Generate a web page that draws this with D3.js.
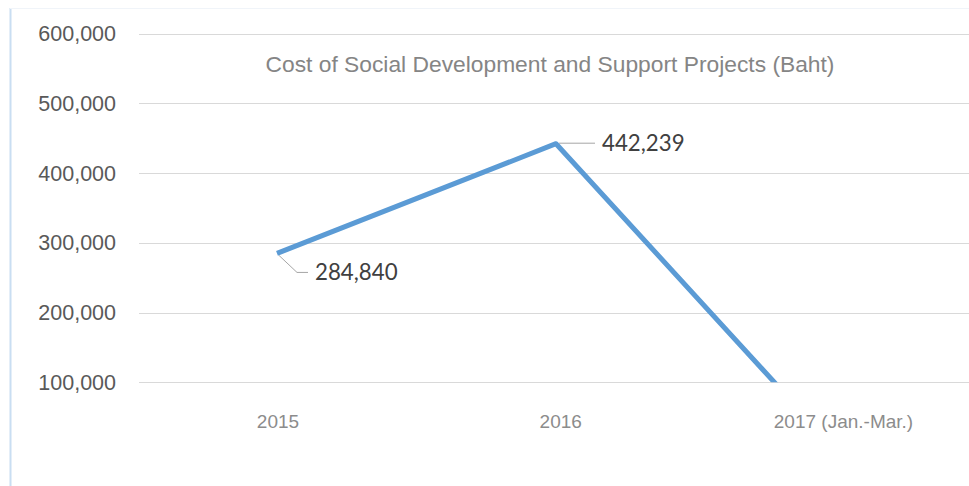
<!DOCTYPE html>
<html>
<head>
<meta charset="utf-8">
<script src="https://cdn.jsdelivr.net/npm/d3@7/dist/d3.min.js"></script>
<style>
  html, body { margin: 0; padding: 0; background: #fff; }
  svg { display: block; }
</style>
</head>
<body>
<svg id="chart" width="969" height="486"></svg>
<script>
// Yearly project cost in Baht
const categories = ["2015", "2016", "2017 (Jan.-Mar.)"];
const costs = [284840, 442239, 5000];
const yTicks = [100000, 200000, 300000, 400000, 500000, 600000];
const title = "Cost of Social Development and Support Projects (Baht)";

const W = 969, H = 486;
const svg = d3.select("#chart");

// chart frame (left and top edges of the chart area)
svg.append("line").attr("x1", 10.5).attr("x2", 10.5).attr("y1", 8).attr("y2", H)
  .attr("stroke", "#c9def2").attr("stroke-width", 2);
svg.append("line").attr("x1", 10).attr("x2", W).attr("y1", 8.5).attr("y2", 8.5)
  .attr("stroke", "#f0f4f9").attr("stroke-width", 1);

const plotLeft = 137.5, plotRight = 974.5;
const x = d3.scalePoint().domain(categories).range([plotLeft, plotRight]).padding(0.5);
const xLabel = d3.scalePoint().domain(categories).range([278, 843.5]);
const y = d3.scaleLinear().domain([100000, 600000]).range([382.3, 33.7]);

// gridlines
svg.append("g").selectAll("line").data(yTicks).join("line")
  .attr("x1", 139).attr("x2", W)
  .attr("y1", d => Math.round(y(d)) + 0.5).attr("y2", d => Math.round(y(d)) + 0.5)
  .attr("stroke", "#d9d9d9").attr("stroke-width", 1);

// y axis labels
const yAxis = d3.axisLeft(y).tickValues(yTicks).tickSize(0).tickPadding(0)
  .tickFormat(d3.format(","));
const gy = svg.append("g").attr("transform", "translate(116,0)").call(yAxis);
gy.select(".domain").remove();
gy.selectAll("text")
  .attr("font-family", "'Liberation Sans', Arial, sans-serif")
  .attr("font-size", 21.5).attr("fill", "#595959");

// category labels
svg.append("g").selectAll("text").data(categories).join("text")
  .attr("x", d => xLabel(d)).attr("y", 421)
  .attr("dy", "0.35em").attr("text-anchor", "middle")
  .attr("font-family", "'Liberation Sans', Arial, sans-serif")
  .attr("font-size", 19).attr("fill", "#8c8c8c")
  .text(d => d);

// title
svg.append("text").attr("x", 550).attr("y", 64).attr("dy", "0.35em")
  .attr("text-anchor", "middle")
  .attr("font-family", "'Liberation Sans', Arial, sans-serif")
  .attr("font-size", 22.8).attr("fill", "#858585")
  .text(title);

// plot-area clipping
svg.append("defs").append("clipPath").attr("id", "plotClip")
  .append("rect").attr("x", plotLeft).attr("y", 0)
  .attr("width", plotRight - plotLeft).attr("height", y(100000));

const data = categories.map((c, i) => ({ c, v: costs[i] }));
const line = d3.line().x(d => x(d.c)).y(d => y(d.v));

svg.append("path").datum(data)
  .attr("clip-path", "url(#plotClip)")
  .attr("d", line)
  .attr("fill", "none").attr("stroke", "#5b9bd5")
  .attr("stroke-width", 5).attr("stroke-linejoin", "round").attr("stroke-linecap", "butt");

// data labels with leader lines
const labelFont = "Lato, 'Open Sans', sans-serif";
const d0 = data[0], d1 = data[1];
const p0 = [x(d0.c), y(d0.v)], p1 = [x(d1.c), y(d1.v)];

svg.append("path")
  .attr("d", `M${p0[0] + 2},${p0[1] + 2} L${p0[0] + 20},${p0[1] + 19} L${p0[0] + 31},${p0[1] + 19}`)
  .attr("fill", "none").attr("stroke", "#a6a6a6").attr("stroke-width", 1);
svg.append("text").attr("x", p0[0] + 38).attr("y", p0[1] + 19).attr("dy", "0.35em")
  .attr("font-family", labelFont).attr("font-size", 22.3).attr("fill", "#404040")
  .text(d3.format(",")(d0.v));

svg.append("path")
  .attr("d", `M${p1[0] + 3},${p1[1] - 0.5} L${p1[0] + 39},${p1[1] - 0.5}`)
  .attr("fill", "none").attr("stroke", "#a6a6a6").attr("stroke-width", 1);
svg.append("text").attr("x", p1[0] + 46).attr("y", p1[1]).attr("dy", "0.35em")
  .attr("font-family", labelFont).attr("font-size", 22.3).attr("fill", "#404040")
  .text(d3.format(",")(d1.v));
</script>
</body>
</html>
